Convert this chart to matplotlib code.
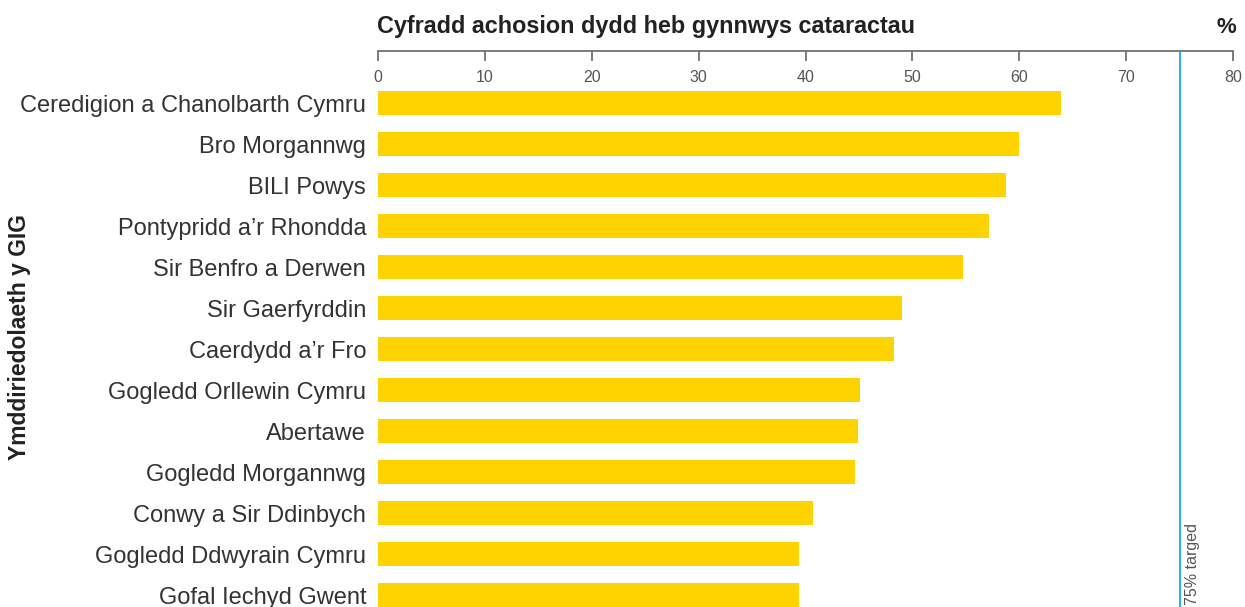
import matplotlib
matplotlib.use('Agg')
import matplotlib.pyplot as plt

# ____________________________ Datos ____________________________

byrddau = ['Ceredigion a Chanolbarth Cymru', 'Bro Morgannwg', 'BILI Powys',
           'Pontypridd a\u2019r Rhondda', 'Sir Benfro a Derwen', 'Sir Gaerfyrddin',
           'Caerdydd a\u2019r Fro', 'Gogledd Orllewin Cymru', 'Abertawe',
           'Gogledd Morgannwg', 'Conwy a Sir Ddinbych', 'Gogledd Ddwyrain Cymru',
           'Gofal Iechyd Gwent']
cyfradd = [63.9, 60.0, 58.8, 57.2, 54.7, 49.0, 48.3, 45.1, 44.9, 44.6, 40.7, 39.4, 39.4]
ticks_x = [0, 10, 20, 30, 40, 50, 60, 70, 80]
targed = 75

plt.rcParams['font.family'] = ['Liberation Sans', 'DejaVu Sans']

W, H = 1245, 607
fig = plt.figure(figsize=(W / 100, H / 100), dpi=100)
ax = fig.add_axes([378 / W, 0, (1233 - 378) / W, (H - 50.7) / H])

pos = list(range(len(byrddau)))
ax.barh(pos, cyfradd, height=0.58, color='#FFD300', zorder=2)
ax.axvline(targed, color='#0FAAE3', lw=1.3, zorder=3)

ax.set_xlim(0, 80)
ax.set_ylim(12.29, -1.276)

for s in ['left', 'right', 'bottom']:
    ax.spines[s].set_visible(False)
ax.spines['top'].set_color('#666666')
ax.spines['top'].set_linewidth(1.2)

ax.set_xticks(ticks_x)
ax.tick_params(axis='x', top=True, labeltop=True, bottom=False, labelbottom=False,
               direction='in', length=7, width=1.2, color='#666666',
               pad=-24.5, labelsize=11.5, labelcolor='#555555')
ax.set_yticks(pos, byrddau)
ax.tick_params(axis='y', length=0, pad=8.5, labelsize=17, labelcolor='#333333')

ax.annotate(f'{targed}% targed', xy=(targed, 0), xycoords=('data', 'axes fraction'),
            xytext=(3.6, 1.5), textcoords='offset points', rotation=90,
            ha='left', va='bottom', fontsize=11.5, color='#555555')

fig.text(377 / W, 1 - 33 / H, 'Cyfradd achosion dydd heb gynnwys cataractau',
         ha='left', va='baseline', fontsize=16.8, fontweight='bold', color='#222222')
fig.text(1236 / W, 1 - 33 / H, '%', ha='right', va='baseline',
         fontsize=16, fontweight='bold', color='#222222')
fig.text(20 / W, 1 - 337 / H, 'Ymddiriedolaeth y GIG', rotation=90,
         ha='center', va='center', fontsize=16.5, fontweight='bold', color='#222222')

fig.savefig('out.png', dpi=100)
